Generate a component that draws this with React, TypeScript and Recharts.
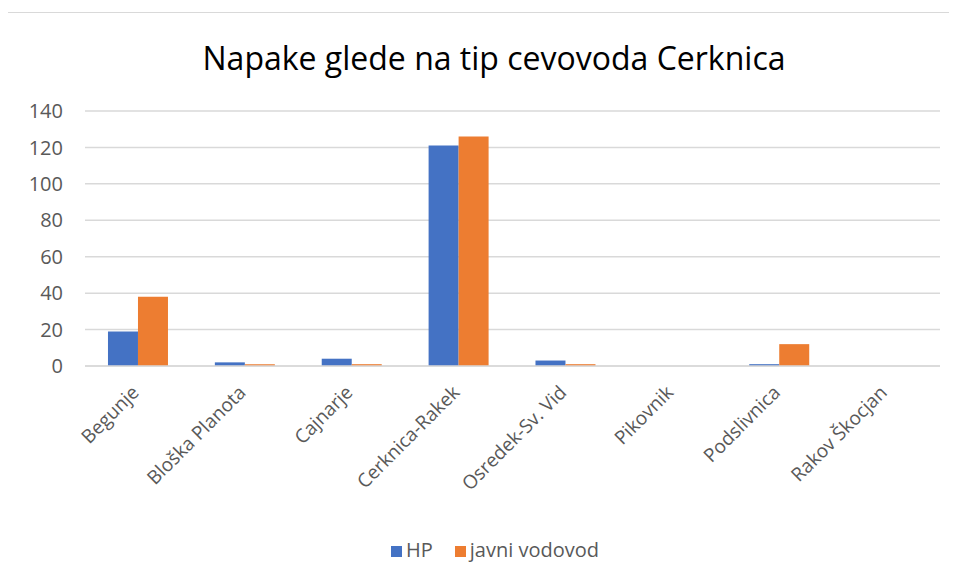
import { BarChart, Bar, XAxis, YAxis, CartesianGrid, Legend } from 'recharts'

const categories = ['Begunje', 'Bloška Planota', 'Cajnarje', 'Cerknica-Rakek', 'Osredek-Sv. Vid', 'Pikovnik', 'Podslivnica', 'Rakov Škocjan']
const hp = [19, 2, 4, 121, 3, 0, 1, 0]
const javniVodovod = [38, 1, 1, 126, 1, 0, 12, 0]
const yTicks = [0, 20, 40, 60, 80, 100, 120, 140]

const data = categories.map((name, i) => ({ name, hp: hp[i], javni: javniVodovod[i] }))

const FONT = '"Open Sans", sans-serif'

function CategoryTick({ x, payload }: any) {
  const ax = x - 3
  const ay = 389
  return (
    <text x={ax} y={ay} dy="0.35em" textAnchor="end" transform={`rotate(-45, ${ax}, ${ay})`} fill="#595959" fontSize={19} fontFamily={FONT}>
      {payload.value}
    </text>
  )
}

export default function App() {
  return (
    <div style={{ position: 'relative', margin: -8, width: 957, height: 583, background: '#fff', overflow: 'hidden' }}>
      <div style={{ position: 'absolute', left: 5, top: 12, width: 970, height: 600, border: '1px solid #d9d9d9', boxSizing: 'border-box' }} />
      <div style={{ position: 'absolute', left: 0, top: 36, width: 988, textAlign: 'center', fontFamily: FONT, fontSize: 32, lineHeight: '44px', color: '#000' }}>
        Napake glede na tip cevovoda Cerknica
      </div>
      <div style={{ position: 'absolute', left: 0, top: 0 }}>
        <BarChart width={957} height={583} data={data} margin={{ top: 111, right: 17, left: 0, bottom: 7 }} barCategoryGap="21.5%" barGap={0}>
          <CartesianGrid vertical={false} stroke="#d9d9d9" strokeWidth={1.5} />
          <XAxis dataKey="name" height={170} interval={0} tick={<CategoryTick />} tickLine={false} axisLine={{ stroke: '#d9d9d9', strokeWidth: 1.5 }} />
          <YAxis width={85} domain={[0, 140]} ticks={yTicks} tickLine={false} axisLine={false} tickMargin={16} tick={{ fill: '#595959', fontSize: 20, fontFamily: FONT }} />
          <Legend verticalAlign="bottom" height={40} iconType="square" iconSize={11} wrapperStyle={{ fontFamily: FONT, fontSize: 20, paddingLeft: 36 }} formatter={(v: string) => <span style={{ color: '#595959', marginRight: 12 }}>{v}</span>} />
          <Bar dataKey="hp" name="HP" fill="#4472c4" isAnimationActive={false} />
          <Bar dataKey="javni" name="javni vodovod" fill="#ed7d31" isAnimationActive={false} />
        </BarChart>
      </div>
    </div>
  )
}
